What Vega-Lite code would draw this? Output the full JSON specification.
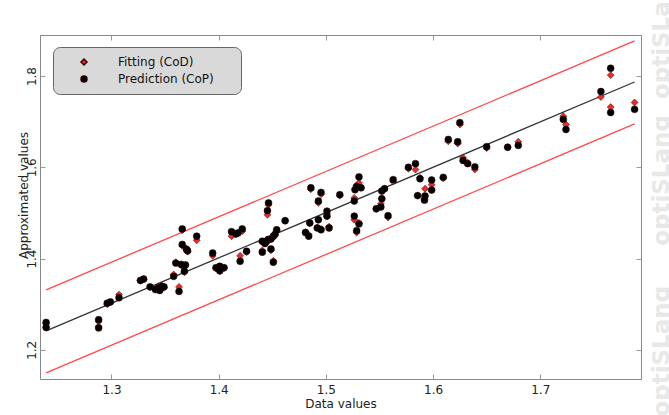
{
  "$schema": "https://vega.github.io/schema/vega-lite/v6.json",
  "width": 601,
  "height": 344,
  "autosize": {"type": "none"},
  "padding": {"left": 40, "top": 35, "right": 28, "bottom": 36},
  "background": "white",
  "title": {"text": "OUTPUT : Br", "font": "DejaVu Sans", "fontSize": 12, "fontWeight": "normal", "color": "#111", "offset": 12},
  "config": {
    "view": {"stroke": "#888", "strokeWidth": 1},
    "axis": {
      "labelFont": "DejaVu Sans", "titleFont": "DejaVu Sans", "labelFontSize": 12, "titleFontSize": 12,
      "titleFontWeight": "normal", "labelColor": "#222", "titleColor": "#222",
      "gridColor": "#e4e4e4", "gridWidth": 1, "domain": false, "tickColor": "#999", "tickSize": -5
    }
  },
  "datasets": {
    "pts": [
      {"x":1.239,"cod":1.258,"cop":1.260},{"x":1.239,"cod":1.250,"cop":1.249},
      {"x":1.288,"cod":1.262,"cop":1.266},{"x":1.288,"cod":1.251,"cop":1.248},
      {"x":1.296,"cod":1.300,"cop":1.302},{"x":1.299,"cod":1.304,"cop":1.305},
      {"x":1.307,"cod":1.321,"cop":1.314},{"x":1.327,"cod":1.352,"cop":1.352},
      {"x":1.330,"cod":1.354,"cop":1.355},{"x":1.336,"cod":1.337,"cop":1.338},
      {"x":1.341,"cod":1.334,"cop":1.332},{"x":1.344,"cod":1.338,"cop":1.336},
      {"x":1.347,"cod":1.341,"cop":1.339},{"x":1.349,"cod":1.336,"cop":1.338},
      {"x":1.345,"cod":1.332,"cop":1.330},{"x":1.358,"cod":1.365,"cop":1.361},
      {"x":1.363,"cod":1.338,"cop":1.328},{"x":1.360,"cod":1.392,"cop":1.390},
      {"x":1.365,"cod":1.385,"cop":1.387},{"x":1.369,"cod":1.386,"cop":1.386},
      {"x":1.368,"cod":1.370,"cop":1.372},{"x":1.366,"cod":1.428,"cop":1.431},
      {"x":1.370,"cod":1.422,"cop":1.420},{"x":1.371,"cod":1.415,"cop":1.417},
      {"x":1.366,"cod":1.462,"cop":1.465},{"x":1.3795,"cod":1.440,"cop":1.449},
      {"x":1.3944,"cod":1.406,"cop":1.412},{"x":1.3975,"cod":1.378,"cop":1.380},
      {"x":1.401,"cod":1.382,"cop":1.383},{"x":1.401,"cod":1.372,"cop":1.373},
      {"x":1.405,"cod":1.379,"cop":1.380},{"x":1.412,"cod":1.449,"cop":1.459},
      {"x":1.416,"cod":1.454,"cop":1.454},{"x":1.418,"cod":1.456,"cop":1.456},
      {"x":1.422,"cod":1.460,"cop":1.465},{"x":1.420,"cod":1.406,"cop":1.394},
      {"x":1.426,"cod":1.414,"cop":1.416},{"x":1.4407,"cod":1.436,"cop":1.438},
      {"x":1.4407,"cod":1.418,"cop":1.414},{"x":1.4432,"cod":1.433,"cop":1.433},
      {"x":1.4448,"cod":1.437,"cop":1.438},{"x":1.4463,"cod":1.441,"cop":1.442},
      {"x":1.4488,"cod":1.418,"cop":1.421},{"x":1.4488,"cod":1.443,"cop":1.443},
      {"x":1.451,"cod":1.448,"cop":1.449},{"x":1.4526,"cod":1.452,"cop":1.453},
      {"x":1.4541,"cod":1.461,"cop":1.463},{"x":1.4465,"cod":1.518,"cop":1.522},
      {"x":1.4455,"cod":1.496,"cop":1.505},{"x":1.451,"cod":1.395,"cop":1.392},
      {"x":1.462,"cod":1.483,"cop":1.483},{"x":1.481,"cod":1.458,"cop":1.457},
      {"x":1.484,"cod":1.452,"cop":1.449},{"x":1.486,"cod":1.552,"cop":1.555},
      {"x":1.485,"cod":1.478,"cop":1.478},{"x":1.4955,"cod":1.541,"cop":1.545},
      {"x":1.493,"cod":1.522,"cop":1.526},{"x":1.493,"cod":1.485,"cop":1.485},
      {"x":1.492,"cod":1.468,"cop":1.467},{"x":1.4955,"cod":1.465,"cop":1.463},
      {"x":1.501,"cod":1.498,"cop":1.504},{"x":1.501,"cod":1.492,"cop":1.493},
      {"x":1.503,"cod":1.470,"cop":1.467},{"x":1.513,"cod":1.538,"cop":1.540},
      {"x":1.5265,"cod":1.533,"cop":1.526},{"x":1.5272,"cod":1.552,"cop":1.551},
      {"x":1.5287,"cod":1.560,"cop":1.558},{"x":1.5309,"cod":1.566,"cop":1.579},
      {"x":1.5328,"cod":1.556,"cop":1.555},{"x":1.5265,"cod":1.485,"cop":1.493},
      {"x":1.5309,"cod":1.478,"cop":1.476},{"x":1.5287,"cod":1.457,"cop":1.461},
      {"x":1.547,"cod":1.509,"cop":1.509},{"x":1.5513,"cod":1.520,"cop":1.513},
      {"x":1.5522,"cod":1.531,"cop":1.531},{"x":1.5522,"cod":1.548,"cop":1.548},
      {"x":1.5547,"cod":1.553,"cop":1.553},{"x":1.558,"cod":1.490,"cop":1.494},
      {"x":1.5628,"cod":1.569,"cop":1.573},{"x":1.577,"cod":1.597,"cop":1.600},
      {"x":1.5836,"cod":1.595,"cop":1.608},{"x":1.5878,"cod":1.577,"cop":1.575},
      {"x":1.5856,"cod":1.538,"cop":1.538},{"x":1.5925,"cod":1.553,"cop":1.537},
      {"x":1.592,"cod":1.530,"cop":1.528},{"x":1.5987,"cod":1.562,"cop":1.572},
      {"x":1.5987,"cod":1.552,"cop":1.550},{"x":1.6095,"cod":1.576,"cop":1.578},
      {"x":1.6142,"cod":1.657,"cop":1.661},{"x":1.623,"cod":1.652,"cop":1.656},
      {"x":1.625,"cod":1.694,"cop":1.698},{"x":1.628,"cod":1.621,"cop":1.615},
      {"x":1.6323,"cod":1.610,"cop":1.608},{"x":1.639,"cod":1.595,"cop":1.601},
      {"x":1.650,"cod":1.642,"cop":1.645},{"x":1.6696,"cod":1.644,"cop":1.644},
      {"x":1.6795,"cod":1.656,"cop":1.648},{"x":1.7215,"cod":1.712,"cop":1.705},
      {"x":1.724,"cod":1.694,"cop":1.683},{"x":1.7566,"cod":1.754,"cop":1.766},
      {"x":1.7657,"cod":1.802,"cop":1.817},{"x":1.7657,"cod":1.732,"cop":1.720},
      {"x":1.788,"cod":1.742,"cop":1.727}
    ],
    "fitline": [
      {"x":1.239,"y":1.2415},{"x":1.788,"y":1.787}
    ],
    "bands": [
      {"g":"upper","x":1.239,"y":1.3315},{"g":"upper","x":1.788,"y":1.877},
      {"g":"lower","x":1.239,"y":1.1495},{"g":"lower","x":1.788,"y":1.695}
    ]
  },
  "layer": [
    {
      "data": {"name": "bands"},
      "mark": {"type": "line", "color": "#ff4a4a", "strokeWidth": 1.3},
      "encoding": {
        "x": {"field": "x", "type": "quantitative", "scale": {"domain": [1.2333, 1.794], "nice": false, "zero": false}, "axis": null},
        "y": {"field": "y", "type": "quantitative", "scale": {"domain": [1.136, 1.890], "nice": false, "zero": false}, "axis": null},
        "detail": {"field": "g"}
      }
    },
    {
      "data": {"name": "fitline"},
      "mark": {"type": "line", "color": "#333333", "strokeWidth": 1.3},
      "encoding": {
        "x": {"field": "x", "type": "quantitative", "axis": {"orient": "top", "values": [1.3, 1.4, 1.5, 1.6, 1.7], "labels": false, "grid": false, "title": null}},
        "y": {"field": "y", "type": "quantitative", "axis": {
          "orient": "right", "values": [1.2, 1.4, 1.6, 1.8], "labels": false, "grid": false,
          "title": "optiSLang\u00a0\u00a0\u00a0\u00a0\u00a0optiSLang\u00a0\u00a0optiSLang",
          "titleFont": "DejaVu Sans", "titleFontWeight": "bold", "titleFontSize": 23, "titleColor": "#e8e8e8",
          "titleAngle": 270, "titleAlign": "center", "titleBaseline": "alphabetic", "titleX": 27, "titleY": 157, "titleLimit": 1000
        }}
      }
    },
    {
      "data": {"name": "pts"},
      "transform": [{"fold": ["cod", "cop"], "as": ["series", "y"]}],
      "mark": {"type": "point", "filled": true, "opacity": 1, "size": 48, "stroke": "#300", "strokeWidth": 0.5},
      "encoding": {
        "x": {"field": "x", "type": "quantitative", "axis": {"values": [1.3, 1.4, 1.5, 1.6, 1.7], "title": "Data values", "labelPadding": 10, "titlePadding": 3}},
        "y": {"field": "y", "type": "quantitative", "axis": {
          "values": [1.2, 1.4, 1.6, 1.8], "title": "Approximated values", "labelAngle": 270,
          "labelAlign": "center", "labelBaseline": "alphabetic", "labelPadding": 10, "titlePadding": -5, "titleY": 160
        }},
        "color": {"field": "series", "type": "nominal", "scale": {"domain": ["cod", "cop"], "range": ["#f02a2a", "#000000"]},
          "legend": {
            "orient": "none", "legendX": 13, "legendY": 12, "title": null,
            "fillColor": "#d9d9d9", "strokeColor": "#666", "cornerRadius": 7, "padding": 9, "rowPadding": 5,
            "symbolOffset": 16, "labelOffset": 28, "labelFont": "DejaVu Sans", "labelFontSize": 12, "labelColor": "#111",
            "symbolSize": 36,
            "labelExpr": "datum.label == 'cod' ? 'Fitting (CoD)' : 'Prediction (CoP)\u2800\u2800'"
          }},
        "shape": {"field": "series", "type": "nominal", "scale": {"domain": ["cod", "cop"], "range": ["diamond", "circle"]}},
        "order": {"field": "series", "sort": "ascending"}
      }
    }
  ],
  "resolve": {"axis": {"x": "independent", "y": "independent"}}
}
